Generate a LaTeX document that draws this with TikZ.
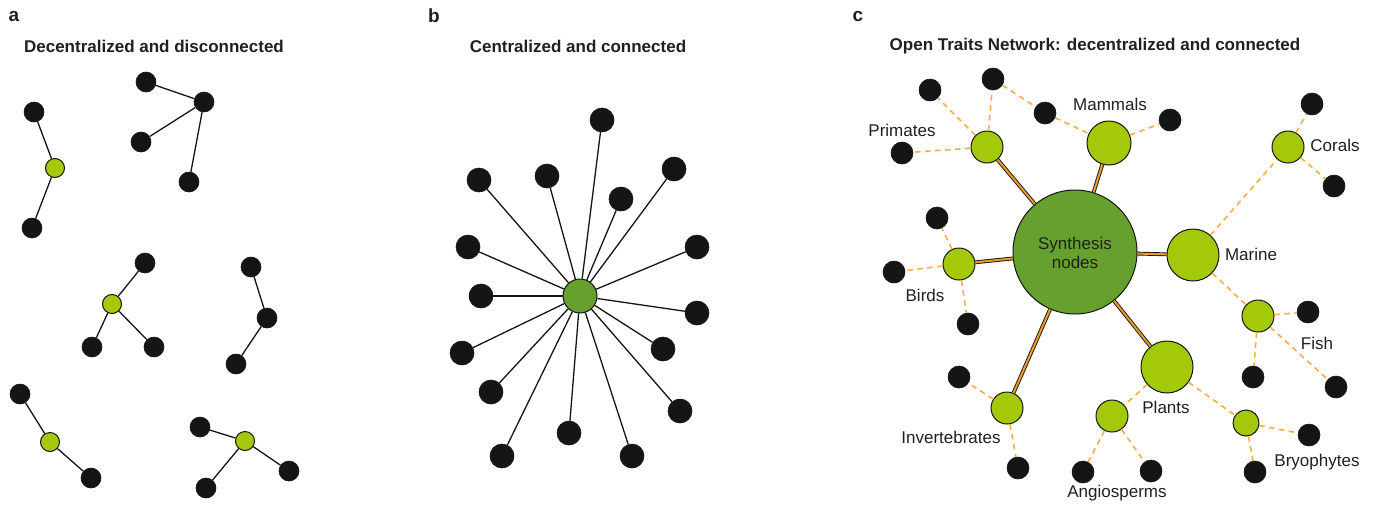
\documentclass[tikz,border=0pt]{standalone}
\usepackage{fontspec}
\setmainfont{Liberation Sans}
\definecolor{nodeblack}{HTML}{141616}
\definecolor{lightgreen}{HTML}{A4C90B}
\definecolor{darkgreen}{HTML}{66A02E}
\definecolor{dashorange}{HTML}{F8AE45}
\definecolor{linkorange}{HTML}{F09A2A}
\definecolor{txt}{HTML}{231F20}
\begin{document}
\begin{tikzpicture}[x=1pt,y=-1pt,
  blk/.style={circle,fill=nodeblack,draw=nodeblack,line width=0.6pt,inner sep=0pt,minimum size=#1},
  blk/.default=20pt,
  grn/.style={circle,fill=lightgreen,draw=nodeblack,line width=1pt,inner sep=0pt,minimum size=#1},
  grn/.default=19pt,
  hub/.style={circle,fill=darkgreen,draw=nodeblack,line width=1pt,inner sep=0pt,minimum size=#1},
  edge/.style={draw=nodeblack,line width=1.3pt},
  dsh/.style={draw=dashorange,line width=1.6pt,dash pattern=on 5.5pt off 4.5pt},
  dbl/.style={draw=nodeblack,line width=0.9pt,double=linkorange,double distance=2pt},
  lbl/.style={text=txt,font=\fontsize{17}{20}\selectfont,inner sep=0pt},
  ttl/.style={text=txt,font=\bfseries\fontsize{17}{20}\selectfont,inner sep=0pt},
  letter/.style={text=txt,font=\bfseries\fontsize{19}{22}\selectfont,inner sep=0pt}]
\useasboundingbox (0,0) rectangle (1374,504);
\fill[white] (0,0) rectangle (1374,504);

% ---------------- panel a ----------------
\node[letter] (la) at (14,16) {a};
\node[ttl] (ta) at (154,46) {Decentralized and disconnected};

\node[blk] (a11) at (34,112) {};
\node[grn] (a12) at (55,168) {};
\node[blk] (a13) at (32,228) {};
\draw[edge] (a11) -- (a12) -- (a13);

\node[blk] (a21) at (146,82) {};
\node[blk] (a22) at (204,102) {};
\node[blk] (a23) at (141,142) {};
\node[blk] (a24) at (189,182) {};
\draw[edge] (a21) -- (a22) -- (a23);
\draw[edge] (a22) -- (a24);

\node[blk] (a31) at (145,263) {};
\node[grn] (a32) at (112,304) {};
\node[blk] (a33) at (92,347) {};
\node[blk] (a34) at (154,347) {};
\draw[edge] (a31) -- (a32) -- (a33);
\draw[edge] (a32) -- (a34);

\node[blk] (a41) at (251,267) {};
\node[blk] (a42) at (267,318) {};
\node[blk] (a43) at (236,364) {};
\draw[edge] (a41) -- (a42) -- (a43);

\node[blk] (a51) at (20,394) {};
\node[grn] (a52) at (50,442) {};
\node[blk] (a53) at (91,478) {};
\draw[edge] (a51) -- (a52) -- (a53);

\node[blk] (a61) at (200,427) {};
\node[grn] (a62) at (245,441) {};
\node[blk] (a63) at (289,471) {};
\node[blk] (a64) at (206,488) {};
\draw[edge] (a61) -- (a62) -- (a63);
\draw[edge] (a62) -- (a64);

% ---------------- panel b ----------------
\node[letter] (lb) at (434,16) {b};
\node[ttl] (tb) at (578,46) {Centralized and connected};

\node[hub=34pt] (bc) at (580,296) {};
\foreach \i/\x/\y in {1/602/120,2/479/180,3/547/176,4/621/199,5/674/169,6/468/247,7/697/247,8/481/296,9/697/313,10/462/353,11/663/349,12/491/392,13/680/411,14/569/433,15/502/456,16/632/456}{
  \node[blk=24pt] (b\i) at (\x,\y) {};
  \draw[edge] (bc) -- (b\i);
}

% ---------------- panel c ----------------
\node[letter] (lc) at (858,16) {c};
\node[ttl] (tc) at (1095,46) {Open Traits Network: decentralized and connected};

\node[hub=124pt] (syn) at (1075,252) {};
\node[lbl,align=center,font=\fontsize{17}{19}\selectfont] (synt) at (1075,253) {Synthesis\\nodes};

\node[grn=32pt] (prim) at (987,147) {};
\node[grn=44pt] (mamm) at (1109,143) {};
\node[grn=32pt] (bird) at (959,264) {};
\node[grn=52pt] (mar) at (1193,255) {};
\node[grn=52pt] (plan) at (1167,367) {};
\node[grn=32pt] (cor) at (1288,147) {};
\node[grn=32pt] (fish) at (1258,316) {};
\node[grn=26pt] (bryo) at (1246,423) {};
\node[grn=32pt] (inv) at (1007,408) {};
\node[grn=32pt] (angi) at (1112,416) {};

\node[blk=22pt] (p1) at (930,90) {};
\node[blk=22pt] (p2) at (993,79) {};
\node[blk=22pt] (p3) at (1045,113) {};
\node[blk=22pt] (p4) at (902,153) {};
\node[blk=22pt] (m1) at (1170,120) {};
\node[blk=22pt] (bi1) at (937,218) {};
\node[blk=22pt] (bi2) at (894,272) {};
\node[blk=22pt] (bi3) at (968,324) {};
\node[blk=22pt] (i1) at (959,377) {};
\node[blk=22pt] (i2) at (1018,468) {};
\node[blk=22pt] (an1) at (1083,472) {};
\node[blk=22pt] (an2) at (1151,471) {};
\node[blk=22pt] (br1) at (1309,435) {};
\node[blk=22pt] (br2) at (1255,472) {};
\node[blk=22pt] (f1) at (1308,312) {};
\node[blk=22pt] (f2) at (1253,377) {};
\node[blk=22pt] (f3) at (1336,387) {};
\node[blk=22pt] (c1) at (1312,104) {};
\node[blk=22pt] (c2) at (1334,186) {};

\draw[dsh] (prim) -- (p1);
\draw[dsh] (prim) -- (p2);
\draw[dsh] (prim) -- (p4);
\draw[dsh] (p2) -- (p3);
\draw[dsh] (p3) -- (mamm);
\draw[dsh] (mamm) -- (m1);
\draw[dsh] (bird) -- (bi1);
\draw[dsh] (bird) -- (bi2);
\draw[dsh] (bird) -- (bi3);
\draw[dsh] (inv) -- (i1);
\draw[dsh] (inv) -- (i2);
\draw[dsh] (angi) -- (an1);
\draw[dsh] (angi) -- (an2);
\draw[dsh] (plan) -- (angi);
\draw[dsh] (plan) -- (bryo);
\draw[dsh] (bryo) -- (br1);
\draw[dsh] (bryo) -- (br2);
\draw[dsh] (mar) -- (fish);
\draw[dsh] (mar) -- (cor);
\draw[dsh] (fish) -- (f1);
\draw[dsh] (fish) -- (f2);
\draw[dsh] (fish) -- (f3);
\draw[dsh] (cor) -- (c1);
\draw[dsh] (cor) -- (c2);

\draw[dbl] (syn) -- (prim);
\draw[dbl] (syn) -- (mamm);
\draw[dbl] (syn) -- (bird);
\draw[dbl] (syn) -- (mar);
\draw[dbl] (syn) -- (plan);
\draw[dbl] (syn) -- (inv);

\node[lbl] (lprim) at (902,130) {Primates};
\node[lbl] (lmamm) at (1110,104) {Mammals};
\node[lbl] (lcor) at (1335,145) {Corals};
\node[lbl] (lmar) at (1251,254) {Marine};
\node[lbl] (lfish) at (1317,343) {Fish};
\node[lbl] (lplan) at (1166,407) {Plants};
\node[lbl] (lbryo) at (1317,462) {Bryophytes};
\node[lbl] (lbird) at (925,295) {Birds};
\node[lbl] (linv) at (951,437) {Invertebrates};
\node[lbl] (langi) at (1117,493) {Angiosperms};
\end{tikzpicture}
\end{document}
